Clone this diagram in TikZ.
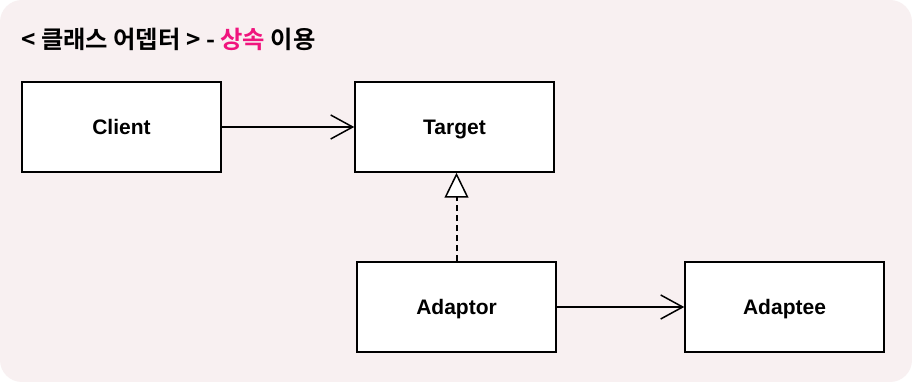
\documentclass[tikz,border=0pt]{standalone}
\usepackage{fontspec}
\setmainfont{Liberation Sans}
\newfontfamily\krfont{Noto Sans CJK KR}[BoldFont={* Bold}]
\usetikzlibrary{arrows.meta}
\definecolor{bgpink}{HTML}{F8F0F1}
\definecolor{accent}{HTML}{F0147E}
\tikzset{
  cls/.style={draw=black, line width=1.5pt, fill=white, minimum width=199pt, minimum height=90pt, inner sep=0pt, text height=15pt, text depth=0pt, font=\fontsize{21}{24}\selectfont\bfseries},
  assoc/.style={line width=1.3pt, -{Straight Barb[length=22pt, width=24pt, line width=1.5pt]}},
  realize/.style={line width=2pt, dash pattern=on 6pt off 4pt, -{Triangle[open, length=25pt, width=24pt, line width=1.5pt, fill=white]}}
}
\begin{document}
\begin{tikzpicture}[x=1pt,y=1pt]
\useasboundingbox (0,0) rectangle (912,382);
\fill[white] (0,0) rectangle (912,382);
\fill[bgpink, rounded corners=22pt] (0,0) rectangle (912,382);
\node[anchor=base west, inner sep=0pt, font=\krfont\bfseries\fontsize{24.3}{28}\selectfont] (title) at (21,333) {< 클래스 어뎁터 > - \textcolor{accent}{상속} 이용};
\node[cls] (client) at (121.5,255) {Client};
\node[cls] (target) at (454.5,255) {Target};
\node[cls] (adaptor) at (456.5,75) {Adaptor};
\node[cls] (adaptee) at (784.5,75) {Adaptee};
\draw[assoc] (client.east) -- (target.west);
\draw[assoc] (adaptor.east) -- (adaptee.west);
\draw[realize] (adaptor.north) -- (adaptor.north |- target.south);
\end{tikzpicture}
\end{document}
